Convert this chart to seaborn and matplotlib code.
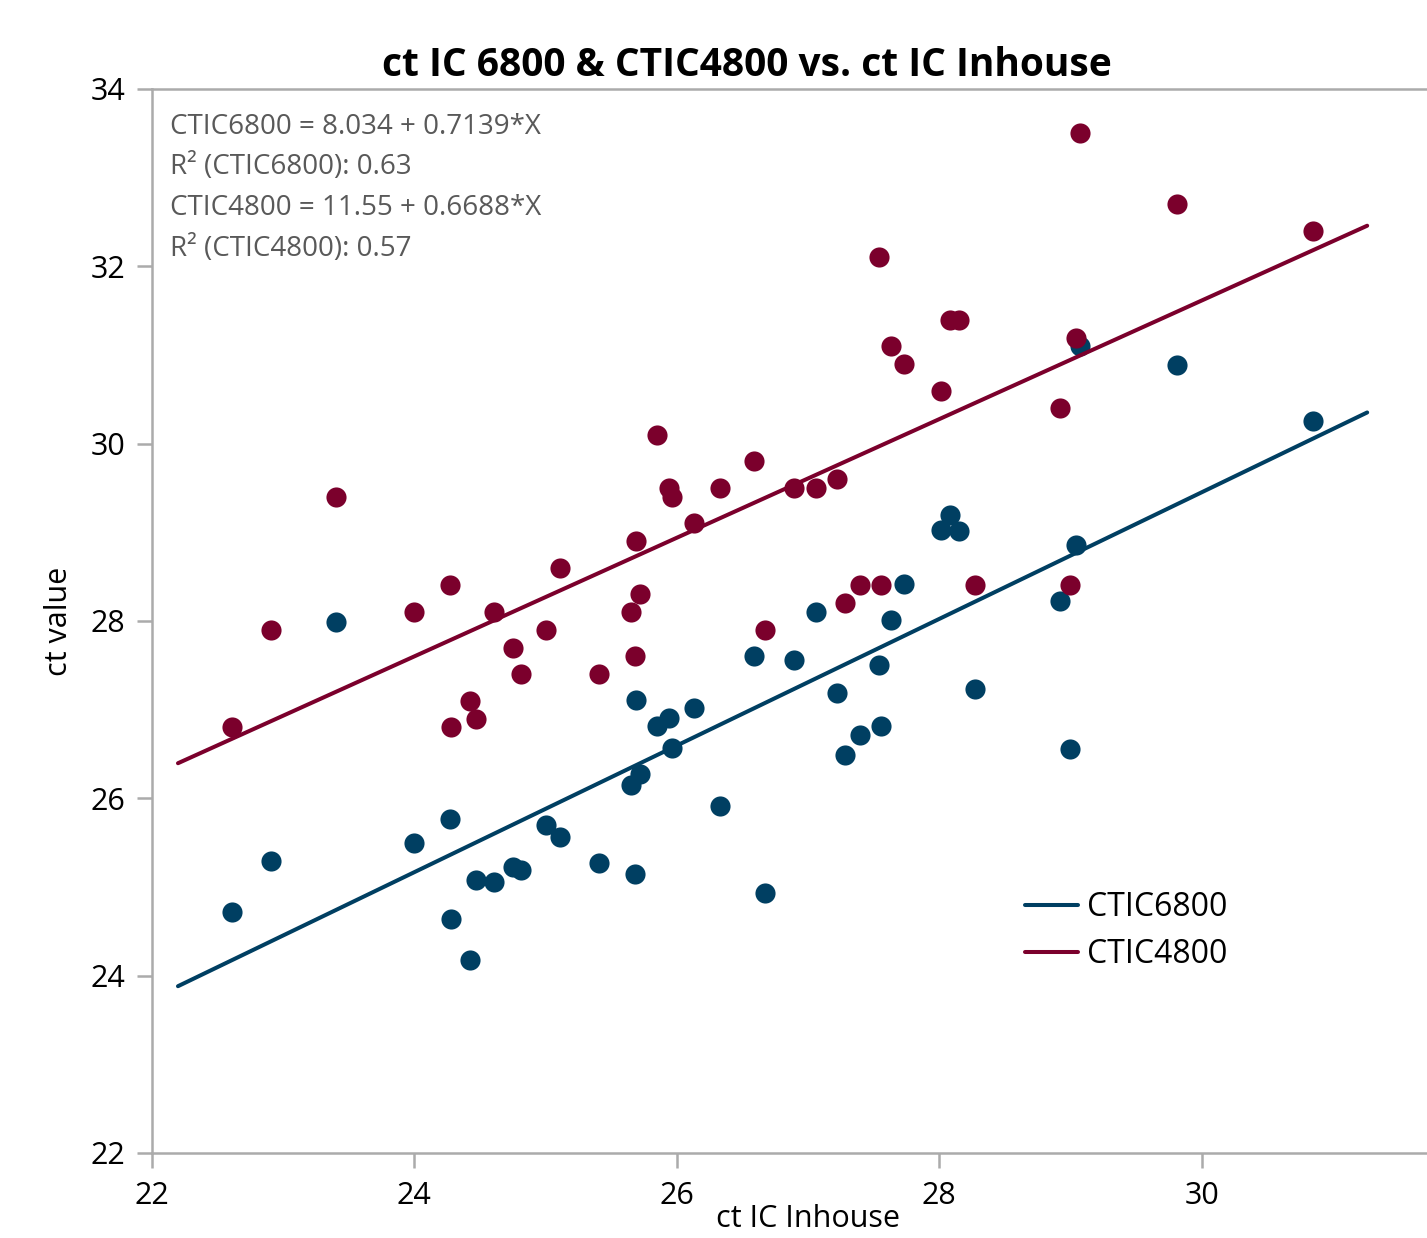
import numpy as np
import pandas as pd
import matplotlib
matplotlib.use("Agg")
import matplotlib.pyplot as plt
import seaborn as sns

# ct values, one pair per in-house sample
inhouse = [22.61, 22.91, 23.40, 24.00, 24.27, 24.28, 24.42, 24.47, 24.61, 24.75, 24.81,
           25.00, 25.11, 25.41, 25.65, 25.69, 25.68, 25.72, 25.85, 25.94, 25.96, 26.13,
           26.33, 26.59, 26.67, 26.89, 27.06, 27.22, 27.28, 27.40, 27.54, 27.56, 27.63,
           27.73, 28.01, 28.08, 28.15, 28.27, 28.92, 29.00, 29.04, 29.07, 29.81, 30.85]
ctic6800 = [24.72, 25.29, 27.99, 25.50, 25.77, 24.64, 24.18, 25.08, 25.06, 25.23, 25.19,
            25.70, 25.56, 25.27, 26.15, 27.11, 25.15, 26.27, 26.82, 26.91, 26.57, 27.02,
            25.91, 27.60, 24.93, 27.56, 28.10, 27.19, 26.49, 26.71, 27.50, 26.82, 28.01,
            28.42, 29.03, 29.20, 29.01, 27.23, 28.23, 26.56, 28.86, 31.10, 30.89, 30.26]
ctic4800 = [26.80, 27.90, 29.40, 28.10, 28.41, 26.80, 27.10, 26.89, 28.10, 27.70, 27.40,
            27.90, 28.60, 27.40, 28.10, 28.90, 27.61, 28.30, 30.10, 29.50, 29.40, 29.10,
            29.50, 29.80, 27.90, 29.50, 29.50, 29.60, 28.20, 28.41, 32.10, 28.41, 31.10,
            30.90, 30.59, 31.39, 31.39, 28.41, 30.40, 28.41, 31.19, 33.50, 32.70, 32.40]

series = ["CTIC6800", "CTIC4800"]
intercepts = [8.034, 11.55]
slopes = [0.7139, 0.6688]
r_squared = [0.63, 0.57]
intercept_txt = ["8.034", "11.55"]
colors = ["#003F62", "#7B002C"]

sns.set_style("ticks")
plt.rcParams["font.family"] = ["Open Sans", "DejaVu Sans"]
plt.rcParams["text.color"] = "black"
plt.rcParams["axes.labelcolor"] = "black"

W, H = 1427, 1238
fig = plt.figure(figsize=(W / 100, H / 100), dpi=100)
ax = fig.add_axes([152 / W, 85 / H, 1312 / W, 1064 / H])

n = len(inhouse)
df = pd.DataFrame({
    "inhouse": inhouse * 2,
    "ct": ctic6800 + ctic4800,
    "device": [series[0]] * n + [series[1]] * n,
})

# fit lines span the data range padded by 5 %
lo, hi = min(inhouse), max(inhouse)
pad = 0.05 * (hi - lo)
xs = np.array([lo - pad, hi + pad])

handles = []
for name, b0, b1, col in zip(series, intercepts, slopes, colors):
    sub = df[df["device"] == name]
    sns.scatterplot(data=sub, x="inhouse", y="ct", color=col, s=210,
                    linewidth=0, ax=ax, legend=False, zorder=3)
    fit = pd.DataFrame({"x": xs, "y": b0 + b1 * xs})
    sns.lineplot(data=fit, x="x", y="y", color=col, linewidth=2.9, ax=ax,
                 zorder=3)
    handles.append(ax.lines[-1])

ax.set_xlim(22, 32)
ax.set_ylim(22, 34)
ax.set_xticks([22, 24, 26, 28, 30])
ax.set_yticks([22, 24, 26, 28, 30, 32, 34])

for sp in ax.spines.values():
    sp.set_color("#ababab")
    sp.set_linewidth(1.8)
ax.tick_params(direction="out", length=11, width=1.8, color="#ababab",
               pad=8, labelsize=22, labelcolor="black")
ax.tick_params(axis="x", pad=9)

ax.set_xlabel("ct IC Inhouse", fontsize=22)
ax.set_ylabel("ct value", fontsize=22)
ax.xaxis.set_label_coords((808 - 152) / 1312, -(1204 - 1153) / 1064)
ax.yaxis.set_label_coords(-(152 - 74) / 1312, 0.5)

fig.text(747 / W, 1 - 65 / H, "ct IC 6800 & CTIC4800 vs. ct IC Inhouse",
         ha="center", va="center", fontsize=28, fontweight="bold")

lines_txt = []
for name, b0t, b1, r2 in zip(series, intercept_txt, slopes, r_squared):
    lines_txt.append(f"{name} = {b0t} + {b1}*X")
    lines_txt.append(f"R\u00b2 ({name}): {r2}")
for i, t in enumerate(lines_txt):
    fig.text(170 / W, 1 - (127 + 40.5 * i) / H, t, ha="left", va="center",
             fontsize=20, color="#595959")

leg = ax.legend(handles, series, loc="center left", frameon=False,
                bbox_to_anchor=(1025 / W, 1 - 931 / H),
                bbox_transform=fig.transFigure, fontsize=23,
                handlelength=1.65, handletextpad=0.3, labelspacing=0.45,
                borderpad=0, borderaxespad=0)

fig.savefig("out.png", dpi=100)
